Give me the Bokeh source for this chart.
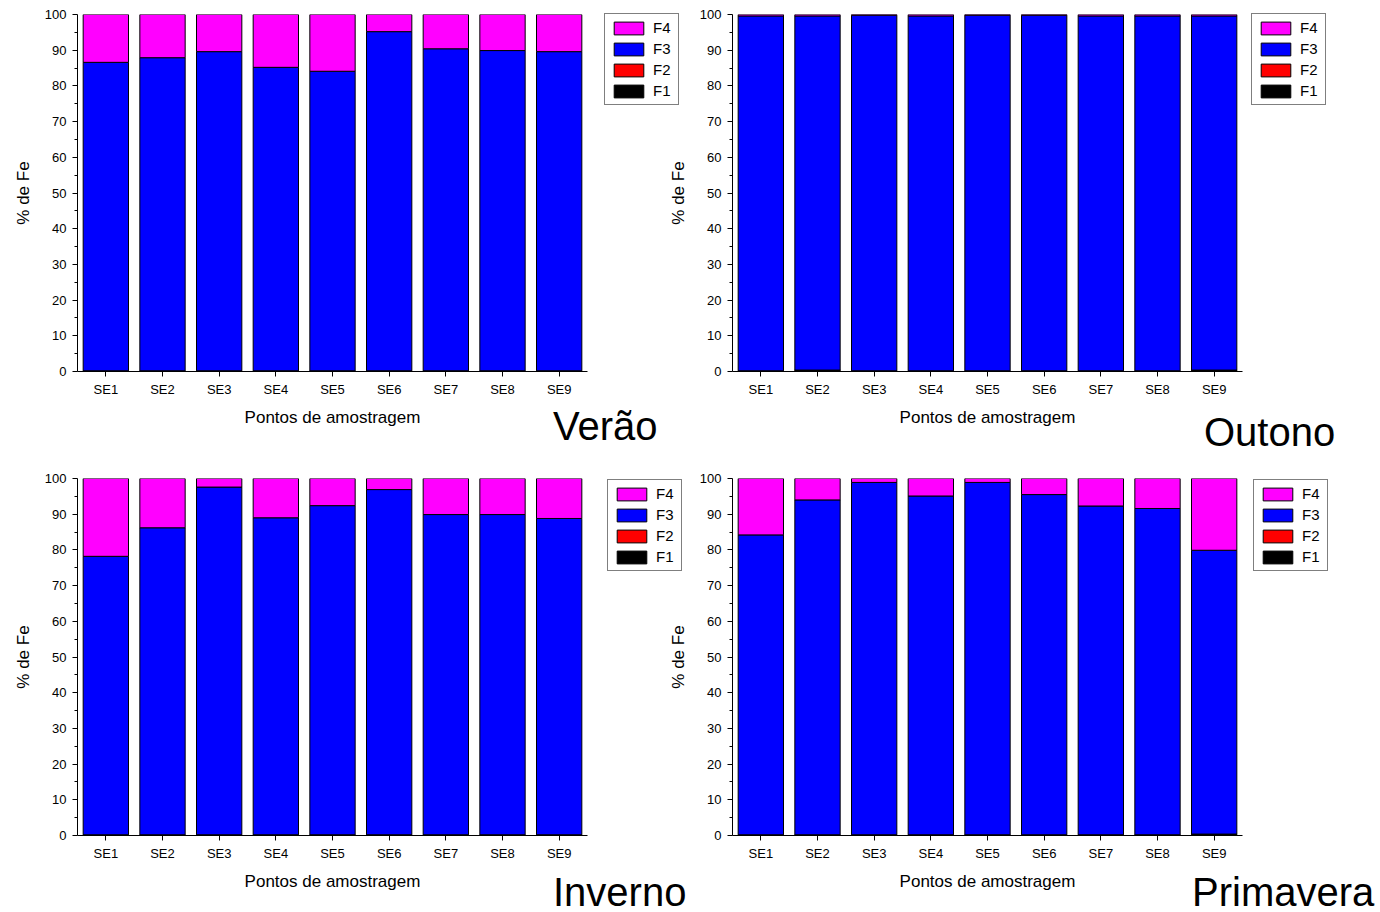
from bokeh.plotting import figure
from bokeh.layouts import row, column
from bokeh.models import Range1d, FixedTicker, Legend, LegendItem, ColumnDataSource, Div
from bokeh.embed import file_html
from bokeh.resources import INLINE

# Sampling points and iron fractions (% of total Fe)
pontos = ["SE1", "SE2", "SE3", "SE4", "SE5", "SE6", "SE7", "SE8", "SE9"]
fracoes = ["F1", "F2", "F3", "F4"]
cores = ["#000000", "#FF0000", "#0000FF", "#FF00FF"]

verao_f1 = [0.1, 0.1, 0.1, 0.1, 0.1, 0.1, 0.1, 0.1, 0.1]
verao_f2 = [0.1, 0.1, 0.1, 0.1, 0.1, 0.1, 0.1, 0.1, 0.1]
verao_f3 = [86.4, 87.7, 89.4, 85.0, 83.9, 95.0, 90.2, 89.7, 89.4]
verao_f4 = [13.4, 12.1, 10.4, 14.8, 15.9, 4.8, 9.6, 10.1, 10.4]

outono_f1 = [0.1, 0.3, 0.1, 0.1, 0.1, 0.1, 0.1, 0.1, 0.3]
outono_f2 = [0.1, 0.1, 0.1, 0.1, 0.1, 0.1, 0.1, 0.1, 0.1]
outono_f3 = [99.4, 99.2, 99.6, 99.4, 99.6, 99.6, 99.4, 99.4, 99.2]
outono_f4 = [0.4, 0.4, 0.2, 0.4, 0.2, 0.2, 0.4, 0.4, 0.4]

inverno_f1 = [0.1, 0.1, 0.1, 0.1, 0.1, 0.1, 0.1, 0.1, 0.1]
inverno_f2 = [0.1, 0.1, 0.1, 0.1, 0.1, 0.1, 0.1, 0.1, 0.1]
inverno_f3 = [78.0, 86.0, 97.4, 88.8, 92.2, 96.7, 89.7, 89.7, 88.6]
inverno_f4 = [21.8, 13.8, 2.4, 11.0, 7.6, 3.1, 10.1, 10.1, 11.2]

primavera_f1 = [0.1, 0.1, 0.1, 0.1, 0.1, 0.1, 0.1, 0.1, 0.3]
primavera_f2 = [0.1, 0.1, 0.1, 0.1, 0.1, 0.1, 0.1, 0.1, 0.1]
primavera_f3 = [84.0, 93.8, 98.7, 94.9, 98.7, 95.3, 92.1, 91.4, 79.5]
primavera_f4 = [15.8, 6.0, 1.1, 4.9, 1.1, 4.5, 7.7, 8.4, 20.1]

y_ticks = list(range(0, 101, 10))
y_minor = list(range(5, 100, 10))

FONT = "Liberation Sans"
FRAME_W = 510
FRAME_H = 357


def painel(f1, f2, f3, f4, width, height, borda_esq, borda_topo, estilos=None):
    xs = list(range(1, len(pontos) + 1))
    src = ColumnDataSource(dict(x=xs, F1=f1, F2=f2, F3=f3, F4=f4))

    p = figure(width=width, height=height,
               x_range=Range1d(0.5, len(pontos) + 0.5),
               y_range=Range1d(0, 100),
               min_border_left=borda_esq,
               min_border_right=width - borda_esq - FRAME_W,
               min_border_top=borda_topo,
               min_border_bottom=height - borda_topo - FRAME_H,
               toolbar_location=None, output_backend="svg",
               background_fill_color="white",
               border_fill_color=None, outline_line_color=None)
    if estilos:
        p.styles = estilos

    p.vbar_stack(fracoes, x="x", width=0.8, source=src,
                 fill_color=cores, line_color="black", line_width=1)

    p.grid.visible = False

    xa = p.xaxis[0]
    xa.ticker = FixedTicker(ticks=xs)
    xa.major_label_overrides = {i: n for i, n in zip(xs, pontos)}
    xa.minor_tick_line_color = None
    xa.major_tick_in = 0
    xa.major_tick_out = 5
    xa.major_label_standoff = 5
    xa.axis_label = "Pontos de amostragem"
    xa.axis_label_standoff = 8

    ya = p.yaxis[0]
    ya.ticker = FixedTicker(ticks=y_ticks, minor_ticks=y_minor)
    ya.major_tick_in = 0
    ya.major_tick_out = 5
    ya.minor_tick_in = 0
    ya.minor_tick_out = 3
    ya.major_label_standoff = 6
    ya.axis_label = "% de Fe"
    ya.axis_label_standoff = 9

    for ax in (xa, ya):
        ax.axis_line_color = "black"
        ax.major_tick_line_color = "black"
        ax.major_label_text_font = FONT
        ax.major_label_text_font_size = "13px"
        ax.major_label_text_color = "black"
        ax.axis_label_text_font = FONT
        ax.axis_label_text_font_size = "17px"
        ax.axis_label_text_font_style = "normal"
        ax.axis_label_text_color = "black"
    ya.minor_tick_line_color = "black"
    return p


def legenda(left, top):
    # Small key of the four fractions, placed at the top right of each panel.
    # Its swatch renderers hold a single placeholder bar lying outside the view.
    q = figure(width=78, height=94, x_range=Range1d(0, 1), y_range=Range1d(0, 1),
               min_border=0, x_axis_location=None, y_axis_location=None,
               toolbar_location=None, output_backend="svg",
               outline_line_color=None, background_fill_color=None,
               border_fill_color=None,
               styles={"position": "absolute", "left": f"{left}px", "top": f"{top}px"})
    q.grid.visible = False
    fora = ColumnDataSource(dict(x=[5], top=[0.5]))
    rs = [q.vbar(x="x", top="top", width=0.8, source=fora,
                 fill_color=c, line_color="black", line_width=1)
          for c in cores]
    itens = [LegendItem(label=fracoes[i], renderers=[rs[i]]) for i in (3, 2, 1, 0)]
    q.add_layout(Legend(items=itens, location="top_left", margin=1,
                        padding=5, spacing=4, glyph_width=37, glyph_height=16,
                        label_height=16, label_width=20, label_standoff=6,
                        label_text_font=FONT, label_text_font_size="15px",
                        label_text_color="black",
                        border_line_color="black", border_line_width=1,
                        background_fill_color="white", background_fill_alpha=1.0))
    return q


def estacao(nome, left, top):
    # Season name placed beside the x-axis title
    return Div(text=nome, styles={
        "position": "absolute", "left": f"{left}px", "top": f"{top}px",
        "font-family": FONT, "font-size": "40px", "line-height": "30px",
        "color": "black", "white-space": "nowrap", "margin": "0", "padding": "0"})


p1 = painel(verao_f1, verao_f2, verao_f3, verao_f4, 690, 456, 77, 14)
p2 = painel(outono_f1, outono_f2, outono_f3, outono_f4, 730, 456, 82, 14,
            estilos={"margin-left": "-40px"})
p3 = painel(inverno_f1, inverno_f2, inverno_f3, inverno_f4, 690, 456, 77, 22)
p4 = painel(primavera_f1, primavera_f2, primavera_f3, primavera_f4, 730, 456, 82, 22,
            estilos={"margin-left": "-40px"})

layout = column(row(p1, p2), row(p3, p4),
                legenda(603, 12), legenda(1250, 12),
                legenda(606, 478), legenda(1252, 478),
                estacao("Verão", 553, 411),
                estacao("Outono", 1204, 417),
                estacao("Inverno", 553, 877),
                estacao("Primavera", 1192, 877),
                styles={"position": "relative"})

with open("out.html", "w") as f:
    f.write(file_html(layout, INLINE))
